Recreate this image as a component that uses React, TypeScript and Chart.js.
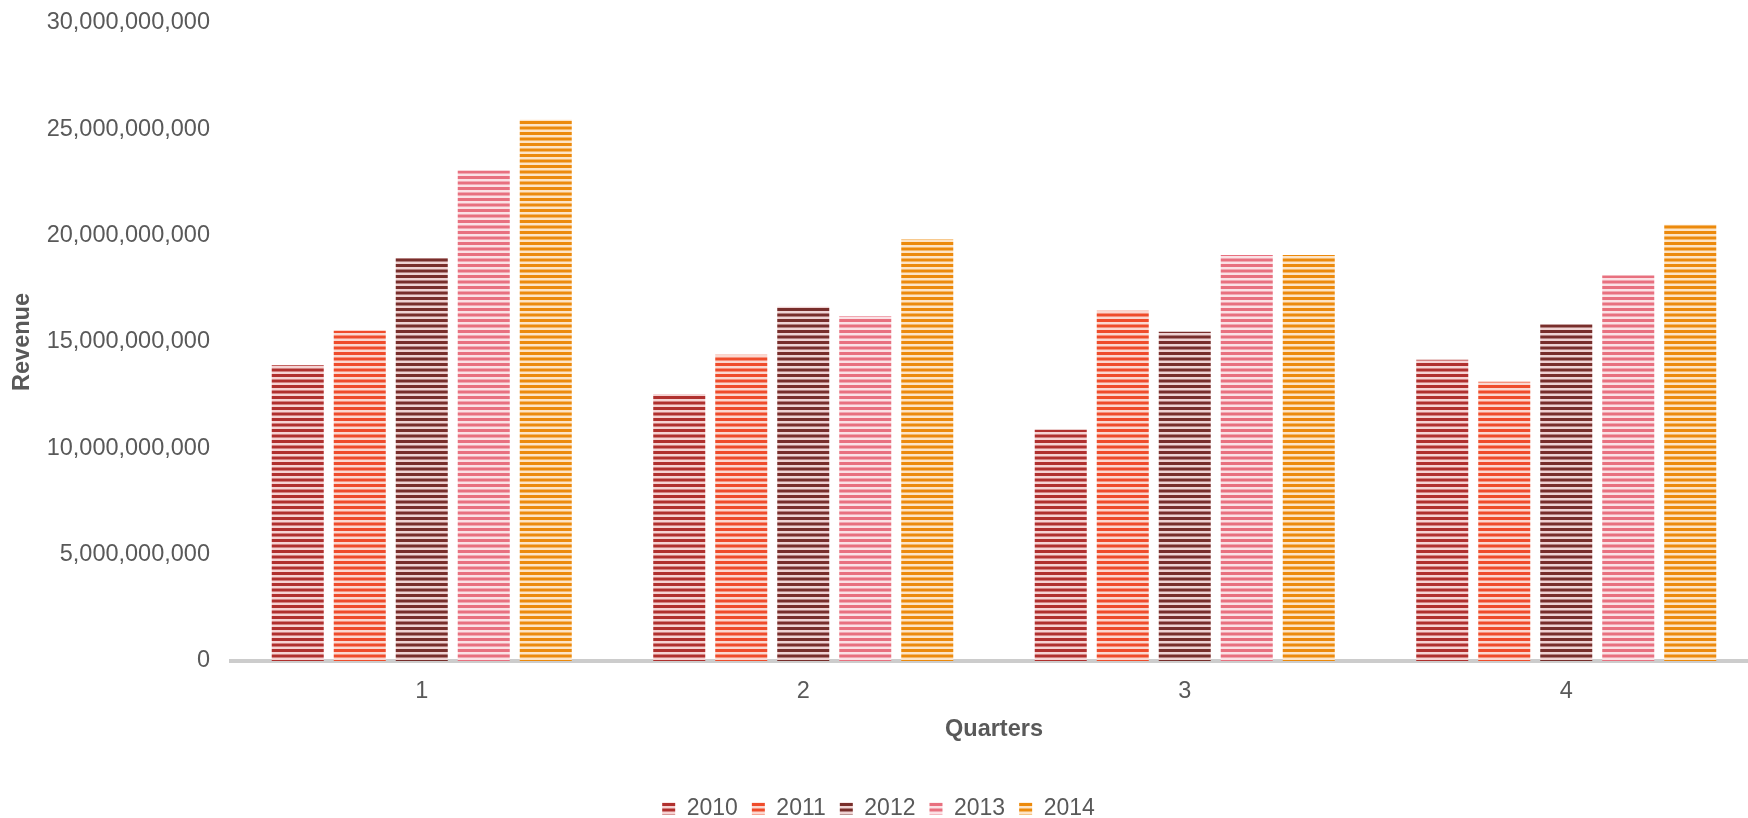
import React, { useEffect, useRef } from "react";
import { Chart, registerables } from "chart.js";

Chart.register(...registerables);

const quarters = ["1", "2", "3", "4"];
const years = ["2010", "2011", "2012", "2013", "2014"];
const revenue2010 = [13.91e9, 12.56e9, 10.87e9, 14.16e9];
const revenue2011 = [15.53e9, 14.4e9, 16.47e9, 13.13e9];
const revenue2012 = [18.95e9, 16.66e9, 15.48e9, 15.83e9];
const revenue2013 = [23.07e9, 16.22e9, 19.09e9, 18.13e9];
const revenue2014 = [25.45e9, 19.83e9, 19.09e9, 20.51e9];
const seriesValues = [revenue2010, revenue2011, revenue2012, revenue2013, revenue2014];
const stripeColors = ["#b0302e", "#ef4c2b", "#782e2b", "#e8707f", "#ec8a0c"];
const lightColors = ["#f6d3d3", "#fbd8d0", "#efd3d3", "#fbe1e5", "#fde4c6"];
const yMin = 0;
const yMax = 30e9;
const yStep = 5e9;

const W = 1757;
const H = 830;
const TEXT = "#595959";
const FONT = "'Liberation Sans', Arial, sans-serif";

function makeStripe(dark: string, light: string, ctxSrc: CanvasRenderingContext2D) {
  const c = document.createElement("canvas");
  c.width = 2;
  c.height = 11;
  const x = c.getContext("2d")!;
  x.fillStyle = light;
  x.fillRect(0, 0, 2, 11);
  x.fillStyle = dark;
  x.fillRect(0, 0, 2, 6);
  const p = ctxSrc.createPattern(c, "repeat")!;
  try {
    p.setTransform(new DOMMatrix().scale(0.5, 0.5));
  } catch (e) {}
  return p;
}

export default function App() {
  const ref = useRef<HTMLCanvasElement>(null);

  useEffect(() => {
    const canvas = ref.current!;
    const ctx = canvas.getContext("2d")!;
    const datasets = years.map((y, i) => ({
      label: y,
      data: seriesValues[i],
      backgroundColor: makeStripe(stripeColors[i], lightColors[i], ctx),
      borderWidth: 0,
      categoryPercentage: 0.8126,
      barPercentage: 0.839,
    }));
    const chart = new Chart(canvas, {
      type: "bar",
      data: { labels: quarters, datasets },
      options: {
        animation: false,
        responsive: false,
        devicePixelRatio: 1,
        layout: { padding: { top: 0, left: 0, right: 0, bottom: 0 } },
        plugins: {
          tooltip: { enabled: false },
          legend: {
            position: "bottom",
            labels: {
              boxWidth: 13,
              boxHeight: 12,
              padding: 14,
              color: TEXT,
              font: { family: FONT, size: 23 },
            },
          },
        },
        scales: {
          x: {
            grid: { display: false, drawTicks: false },
            border: { display: true, color: "#cccccc", width: 4 },
            ticks: { color: TEXT, font: { family: FONT, size: 23.5 }, padding: 16 },
            title: {
              display: true,
              text: "Quarters",
              color: TEXT,
              font: { family: FONT, size: 23.5, weight: "bold" },
              padding: { top: 0, bottom: 39 },
            },
            afterFit: (s: any) => {
              s.height = 122;
            },
          },
          y: {
            min: yMin,
            max: yMax,
            grid: { display: false, drawTicks: false },
            border: { display: false },
            ticks: {
              stepSize: yStep,
              color: TEXT,
              font: { family: FONT, size: 23.5 },
              padding: 21,
              callback: (v: any) => Number(v).toLocaleString("en-US"),
            },
            title: {
              display: true,
              text: "Revenue",
              color: TEXT,
              font: { family: FONT, size: 23.5, weight: "bold" },
              padding: { top: 8, bottom: 0 },
            },
            afterFit: (s: any) => {
              s.width = 231;
              s.paddingTop = 23;
              s.paddingBottom = 0;
            },
          },
        },
      },
    });
    return () => chart.destroy();
  }, []);

  return (
    <div
      style={{
        position: "absolute",
        left: 0,
        top: 0,
        width: 1748,
        height: 818,
        overflow: "hidden",
        background: "#ffffff",
      }}
    >
      <canvas ref={ref} width={W} height={H} style={{ width: W, height: H, display: "block" }} />
    </div>
  );
}
